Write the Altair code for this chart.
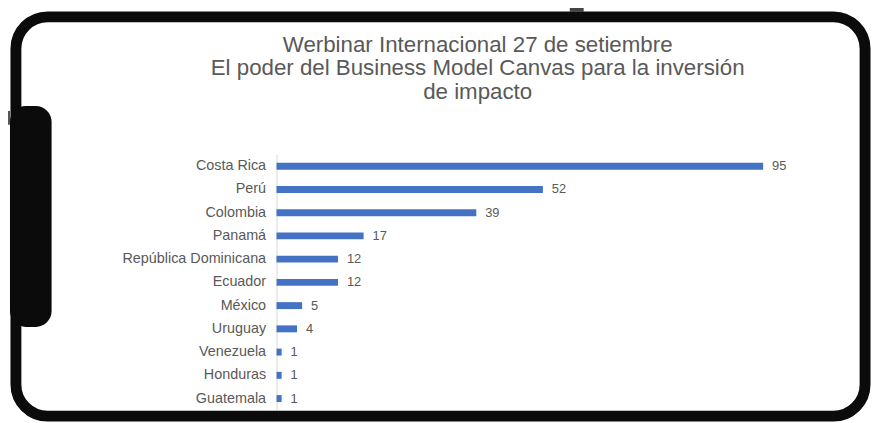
import altair as alt
import pandas as pd

countries = ["Costa Rica", "Perú", "Colombia", "Panamá", "República Dominicana",
             "Ecuador", "México", "Uruguay", "Venezuela", "Honduras", "Guatemala"]
values = [95, 52, 39, 17, 12, 12, 5, 4, 1, 1, 1]
title_lines = ["Werbinar Internacional 27 de setiembre",
               "El poder del Business Model Canvas para la inversión",
               "de impacto"]

df = pd.DataFrame({"pais": countries, "valor": values})

FONT = "Liberation Sans"
GRAY = "#595959"

base = alt.Chart(df)

x = alt.X("valor:Q", scale=alt.Scale(domain=[0, 100], nice=False), axis=None)
y = alt.Y("pais:N", sort=countries, title=None,
          scale=alt.Scale(paddingInner=0, paddingOuter=0),
          axis=alt.Axis(ticks=False, domainColor="#d9d9d9", domainWidth=1,
                        labelFont=FONT, labelFontSize=14.5, labelColor=GRAY,
                        labelPadding=11, grid=False))

bars = base.mark_bar(size=7, color="#4472C4").encode(x=x, y=y)
labels = base.mark_text(align="left", baseline="middle", dx=9, font=FONT,
                        fontSize=13, color=GRAY).encode(x=x, y=y, text="valor:Q")

deco = alt.Chart(alt.Data(values=[{"k": 1}]))
frame = deco.mark_rect(filled=False, stroke="#0b0b0b", strokeWidth=11,
                       cornerRadius=32).encode(
    x=alt.value(-263), x2=alt.value(594), y=alt.value(-139), y2=alt.value(264))
notch = deco.mark_rect(color="#0b0b0b", cornerRadius=16).encode(
    x=alt.value(-269), x2=alt.value(-227), y=alt.value(-49), y2=alt.value(174))
stub_left = deco.mark_rect(color="#555555").encode(
    x=alt.value(-279), x2=alt.value(-269), y=alt.value(-44), y2=alt.value(-30))
stub_top = deco.mark_rect(color="#444444").encode(
    x=alt.value(296), x2=alt.value(310), y=alt.value(-154), y2=alt.value(-144))

title = deco.mark_text(align="center", baseline="top", font=FONT, fontSize=22.5,
                       color=GRAY, lineHeight=24).encode(
    x=alt.value(203), y=alt.value(-122), text=alt.value(title_lines))

chart = alt.layer(frame, notch, stub_left, stub_top, title, bars, labels).properties(
    width=517, height=258,
    autosize=alt.AutoSizeParams(type="none"),
    padding={"left": 271, "top": 146, "right": 84, "bottom": 10},
    background="white",
).configure_view(stroke=None)

chart.save("out.html", embed_options={"renderer": "svg", "actions": False})
